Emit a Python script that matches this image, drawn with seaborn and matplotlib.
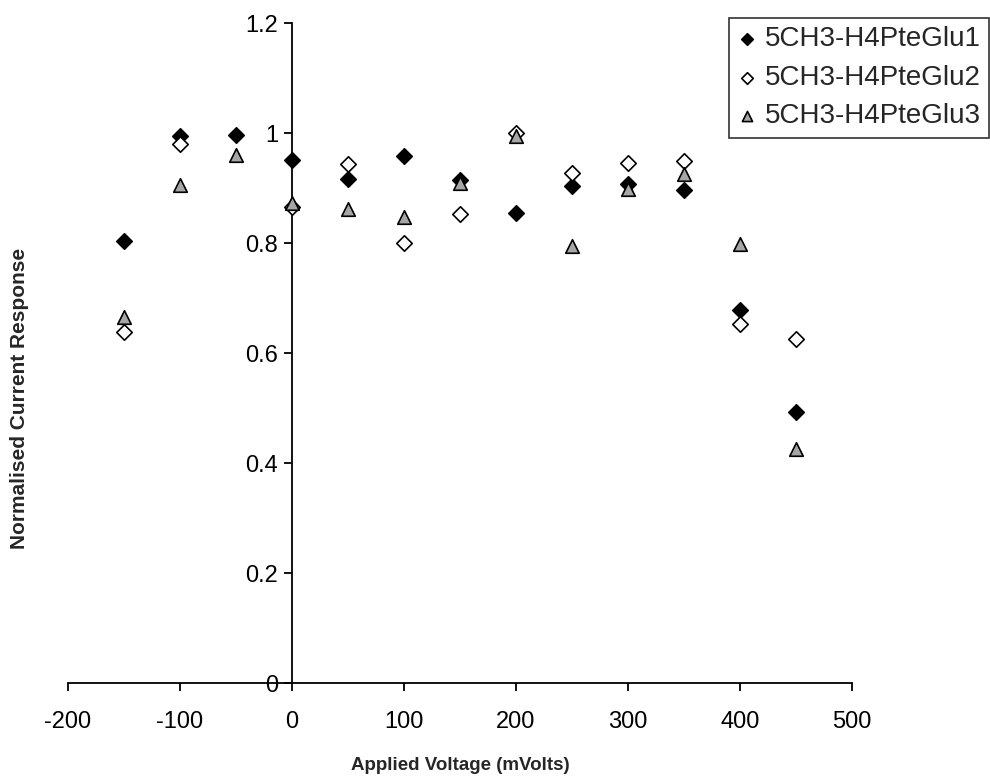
import matplotlib
matplotlib.use('Agg')

import numpy as np
import pandas as pd
import seaborn as sns
import matplotlib.pyplot as plt

# values
voltage = [-150, -100, -50, 0, 50, 100, 150, 200, 250, 300, 350, 400, 450]
glu1 = [0.804, 0.995, 0.997, 0.951, 0.916, 0.958, 0.915, 0.855, 0.904, 0.908, 0.896, 0.678, 0.492]
glu2 = [0.639, 0.980, np.nan, 0.865, 0.943, 0.800, 0.852, 1.000, 0.927, 0.946, 0.949, 0.653, 0.625]
glu3 = [0.666, 0.905, 0.960, 0.872, 0.861, 0.848, 0.909, 0.995, 0.795, 0.899, 0.925, 0.799, 0.425]
names = ["5CH3-H4PteGlu1", "5CH3-H4PteGlu2", "5CH3-H4PteGlu3"]
x_ticks = [-200, -100, 0, 100, 200, 300, 400, 500]
y_ticks = [0, 0.2, 0.4, 0.6, 0.8, 1.0, 1.2]
y_tick_labels = ["0", "0.2", "0.4", "0.6", "0.8", "1", "1.2"]

sns.set_style("white")
plt.rcParams['font.family'] = ['Liberation Sans', 'DejaVu Sans']
plt.rcParams['axes.unicode_minus'] = False

fig = plt.figure(figsize=(9.9, 7.8), dpi=100)
ax = fig.add_axes([68 / 990, 1 - 683 / 780, 784 / 990, 660 / 780])

styles = [("black", "D", 62), ("white", "D", 62), ("#a6a6a6", "^", 95)]
for name, vals, (col, mk, sz) in zip(names, [glu1, glu2, glu3], styles):
    df = pd.DataFrame({"v": voltage, "r": vals}).dropna()
    sns.scatterplot(data=df, x="v", y="r", color=col, marker=mk, s=sz,
                    edgecolor="black", linewidth=1.2, label=name, ax=ax,
                    clip_on=False, zorder=3)

ax.set_xlim(-200, 500)
ax.set_ylim(0, 1.2)
ax.set_xticks(x_ticks)
ax.set_yticks(y_ticks)
ax.set_yticklabels(y_tick_labels)

ax.spines['left'].set_position(('data', 0))
ax.spines['bottom'].set_position(('data', 0))
ax.spines['top'].set_visible(False)
ax.spines['right'].set_visible(False)
for s in ['left', 'bottom']:
    ax.spines[s].set_color('black')
    ax.spines[s].set_linewidth(1.3)

ax.tick_params(direction='out', length=6, width=1.3, labelsize=17,
               colors='black', left=True, bottom=True)
ax.tick_params(axis='x', pad=14)
ax.tick_params(axis='y', pad=4)
ax.set_xlabel("")
ax.set_ylabel("")

fig.text(460 / 990, 1 - 765 / 780, "Applied Voltage (mVolts)", ha='center',
         va='center', fontsize=13.5, fontweight='bold')
fig.text(20 / 990, 1 - 398 / 780, "Normalised Current Response", ha='center',
         va='center', rotation=90, fontsize=15, fontweight='bold')

leg = ax.legend(loc='upper right', bbox_to_anchor=(989 / 990, 1 - 18 / 780),
                bbox_transform=fig.transFigure, borderaxespad=0,
                frameon=True, fancybox=False, edgecolor='black',
                fontsize=20, handlelength=0.7, handletextpad=0.3,
                labelspacing=0.45, borderpad=0.3, markerscale=0.75)
leg.get_frame().set_linewidth(1.2)

fig.savefig("out.png", dpi=100, facecolor='white')
